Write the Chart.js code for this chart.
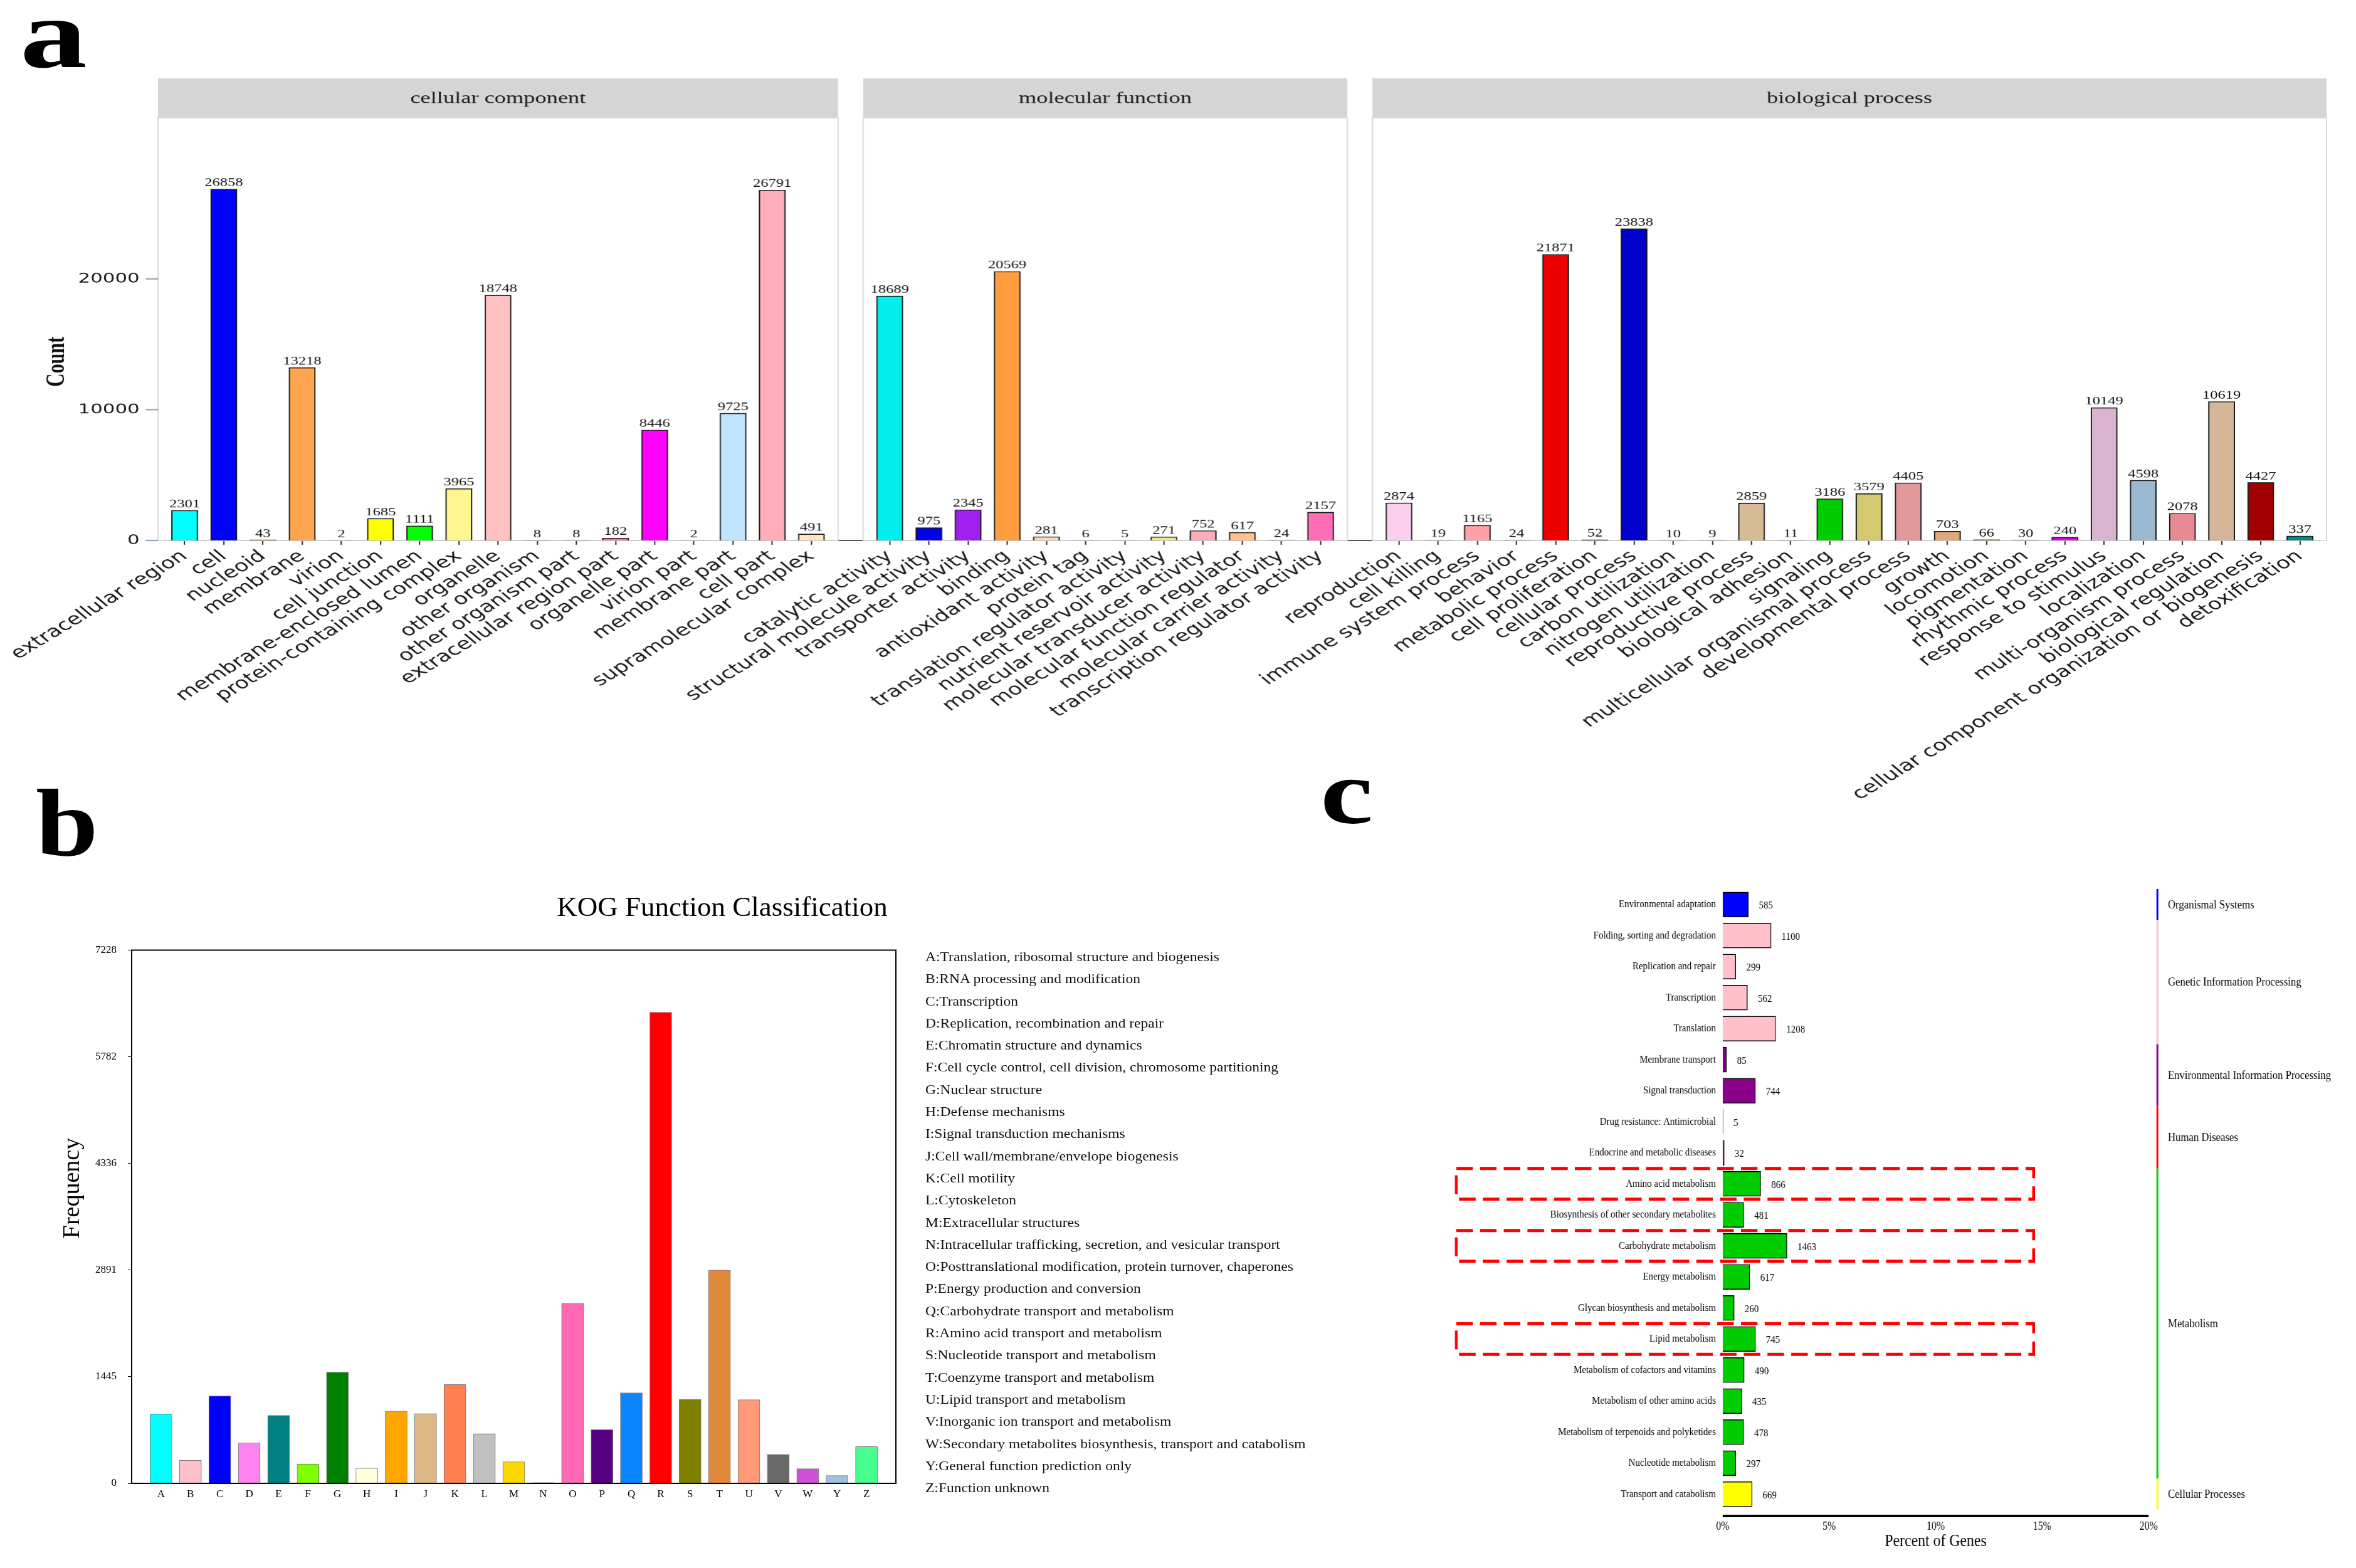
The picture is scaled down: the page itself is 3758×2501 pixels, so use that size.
<!DOCTYPE html>
<html>
<head>
<meta charset="utf-8">
<title>GO / KOG / KEGG annotation</title>
<script src="https://cdn.jsdelivr.net/npm/chart.js@4.4.1/dist/chart.umd.min.js"></script>
<style>
  html, body { margin: 0; padding: 0; background: #fff; }
  #page { position: relative; width: 3758px; height: 2501px; overflow: hidden; background: #fff; }
  canvas { position: absolute; }
  .letter { position: absolute; font-family: "Liberation Serif", serif; font-weight: bold; line-height: 1; transform-origin: 0 0; color: #000; }
  #lab-a { left: 32px; top: -23px; font-size: 156px; transform: scaleX(1.37); }
  #lab-b { left: 57px; top: 1237px; font-size: 152px; transform: scaleX(1.18); }
  #lab-c { left: 2106px; top: 1190px; font-size: 147px; transform: scaleX(1.29); }
  #kog-legend { position: absolute; left: 1476px; top: 1509px; font-family: "Liberation Serif", serif; font-size: 21px; line-height: 35.3px; white-space: nowrap; color: #111; transform: scaleX(1.12); transform-origin: 0 0; }
</style>
</head>
<body>
<div id="page">
  <div class="letter" id="lab-a">a</div>
  <div class="letter" id="lab-b">b</div>
  <div class="letter" id="lab-c">c</div>
  <canvas id="go-chart" width="2684" height="1300" style="left:0;top:0;width:3758px;height:1300px"></canvas>
  <canvas id="kog-chart" width="2304" height="1060" style="left:0;top:1380px;width:2304px;height:1060px"></canvas>
  <div id="kog-legend"></div>
  <canvas id="kegg-chart" width="1657" height="1121" style="left:2300px;top:1380px;width:1458px;height:1121px"></canvas>
</div>
<script>
// ---- panel a: GO terms ----
const ccLabels = ["extracellular region", "cell", "nucleoid", "membrane", "virion", "cell junction",
  "membrane-enclosed lumen", "protein-containing complex", "organelle", "other organism",
  "other organism part", "extracellular region part", "organelle part", "virion part",
  "membrane part", "cell part", "supramolecular complex"];
const ccCounts = [2301, 26858, 43, 13218, 2, 1685, 1111, 3965, 18748, 8, 8, 182, 8446, 2, 9725, 26791, 491];
const ccColors = ["#00FFFF", "#0000FF", "#E0A030", "#FFA54F", "#CCCCCC", "#FFFF00", "#00FF00", "#FFF68F",
  "#FFC1C1", "#999999", "#999999", "#FF6EB4", "#FF00FF", "#CCCCCC", "#BFE4FF", "#FFAEB9", "#FFE4C4"];

const mfLabels = ["catalytic activity", "structural molecule activity", "transporter activity", "binding",
  "antioxidant activity", "protein tag", "translation regulator activity", "nutrient reservoir activity",
  "molecular transducer activity", "molecular function regulator", "molecular carrier activity",
  "transcription regulator activity"];
const mfCounts = [18689, 975, 2345, 20569, 281, 6, 5, 271, 752, 617, 24, 2157];
const mfColors = ["#00EEEE", "#0000EE", "#A020F0", "#FF9E40", "#FFDAB0", "#999999", "#999999", "#F0E68C",
  "#FFAEB9", "#FFC08A", "#999999", "#FF6EB4"];

const bpLabels = ["reproduction", "cell killing", "immune system process", "behavior", "metabolic process",
  "cell proliferation", "cellular process", "carbon utilization", "nitrogen utilization",
  "reproductive process", "biological adhesion", "signaling", "multicellular organismal process",
  "developmental process", "growth", "locomotion", "pigmentation", "rhythmic process",
  "response to stimulus", "localization", "multi-organism process", "biological regulation",
  "cellular component organization or biogenesis", "detoxification"];
const bpCounts = [2874, 19, 1165, 24, 21871, 52, 23838, 10, 9, 2859, 11, 3186, 3579, 4405, 703, 66, 30,
  240, 10149, 4598, 2078, 10619, 4427, 337];
const bpColors = ["#FAD0EE", "#999999", "#FFA0AB", "#999999", "#EE0000", "#333333", "#0000CD", "#999999",
  "#999999", "#D6BB94", "#999999", "#00CD00", "#D4C870", "#E09A9A", "#DEA878", "#8B5A2B", "#999999",
  "#EE00EE", "#D8B4CE", "#9AB8D0", "#E68A94", "#D6B698", "#A00000", "#008B8B"];

const goOntologies = ["cellular component", "molecular function", "biological process"];
const goTicks = [0, 10000, 20000];

// ---- panel b: KOG ----
const kogClasses = ["A", "B", "C", "D", "E", "F", "G", "H", "I", "J", "K", "L", "M", "N", "O", "P", "Q",
  "R", "S", "T", "U", "V", "W", "Y", "Z"];
const kogCounts = [941, 312, 1184, 548, 922, 262, 1508, 206, 978, 945, 1340, 673, 293, 10, 2443, 729, 1228,
  6387, 1140, 2890, 1134, 393, 199, 106, 498];
const kogColors = ["#00FFFF", "#FFC0CB", "#0000FF", "#FF83F0", "#008080", "#7FFF00", "#008000", "#FFFFE0",
  "#FFA500", "#DEB887", "#FF7F50", "#C0C0C0", "#FFD700", "#8B4513", "#FF69B4", "#560082", "#0A84FF",
  "#FF0000", "#808000", "#E2893C", "#FF9977", "#696969", "#D050D8", "#A0C0E0", "#46FF8E"];
const kogDescriptions = ["Translation, ribosomal structure and biogenesis", "RNA processing and modification",
  "Transcription", "Replication, recombination and repair", "Chromatin structure and dynamics",
  "Cell cycle control, cell division, chromosome partitioning", "Nuclear structure", "Defense mechanisms",
  "Signal transduction mechanisms", "Cell wall/membrane/envelope biogenesis", "Cell motility",
  "Cytoskeleton", "Extracellular structures", "Intracellular trafficking, secretion, and vesicular transport",
  "Posttranslational modification, protein turnover, chaperones", "Energy production and conversion",
  "Carbohydrate transport and metabolism", "Amino acid transport and metabolism",
  "Nucleotide transport and metabolism", "Coenzyme transport and metabolism", "Lipid transport and metabolism",
  "Inorganic ion transport and metabolism", "Secondary metabolites biosynthesis, transport and catabolism",
  "General function prediction only", "Function unknown"];
const kogTicks = [0, 1445, 2891, 4336, 5782, 7228];

// ---- panel c: KEGG ----
const keggPathways = ["Environmental adaptation", "Folding, sorting and degradation", "Replication and repair",
  "Transcription", "Translation", "Membrane transport", "Signal transduction", "Drug resistance: Antimicrobial",
  "Endocrine and metabolic diseases", "Amino acid metabolism", "Biosynthesis of other secondary metabolites",
  "Carbohydrate metabolism", "Energy metabolism", "Glycan biosynthesis and metabolism", "Lipid metabolism",
  "Metabolism of cofactors and vitamins", "Metabolism of other amino acids",
  "Metabolism of terpenoids and polyketides", "Nucleotide metabolism", "Transport and catabolism"];
const keggCounts = [585, 1100, 299, 562, 1208, 85, 744, 5, 32, 866, 481, 1463, 617, 260, 745, 490, 435, 478, 297, 669];
const keggGroups = ["Organismal Systems", "Genetic Information Processing", "Environmental Information Processing",
  "Human Diseases", "Metabolism", "Cellular Processes"];
const keggGroupOf = [0, 1, 1, 1, 1, 2, 2, 3, 3, 4, 4, 4, 4, 4, 4, 4, 4, 4, 4, 5];
const keggGroupColors = ["#0000FF", "#FFC0CB", "#8B008B", "#FF0000", "#00CC00", "#FFFF00"];
const keggHighlighted = ["Amino acid metabolism", "Carbohydrate metabolism", "Lipid metabolism"];
const keggTotalGenes = 48500;
const keggTicks = [0, 5, 10, 15, 20];

Chart.defaults.color = "#000";
Chart.defaults.font.family = '"Liberation Serif", serif';

// ---------- panel a ----------
const goLabels = [...ccLabels, "", ...mfLabels, "", ...bpLabels];
const goCounts = [...ccCounts, null, ...mfCounts, null, ...bpCounts];
const goColors = [...ccColors, "rgba(0,0,0,0)", ...mfColors, "rgba(0,0,0,0)", ...bpColors];
const goPanels = [
  { name: goOntologies[0], first: 0, last: ccLabels.length - 1 },
  { name: goOntologies[1], first: ccLabels.length + 1, last: ccLabels.length + mfLabels.length },
  { name: goOntologies[2], first: ccLabels.length + mfLabels.length + 2, last: goLabels.length - 1 }
];

const goPanelPlugin = {
  id: "goPanels",
  beforeDatasetsDraw(chart) {
    const { ctx, chartArea, scales: { x, y } } = chart;
    const band = x.getPixelForValue(1) - x.getPixelForValue(0);
    ctx.save();
    goPanels.forEach(p => {
      const x0 = x.getPixelForValue(p.first) - 0.68 * band;
      const x1 = x.getPixelForValue(p.last) + 0.68 * band;
      ctx.fillStyle = "#d5d5d5";
      ctx.fillRect(x0, 125, x1 - x0, chartArea.top - 125);
      ctx.strokeStyle = "#d9d9d9";
      ctx.lineWidth = 1.5;
      ctx.strokeRect(x0, chartArea.top, x1 - x0, chartArea.bottom - chartArea.top);
      ctx.fillStyle = "#1a1a1a";
      ctx.font = '26px "Liberation Serif"';
      ctx.textAlign = "center";
      ctx.textBaseline = "middle";
      ctx.fillText(p.name, (x0 + x1) / 2, (125 + chartArea.top) / 2 + 1);
    });
    const left = x.getPixelForValue(0) - 0.68 * band;
    ctx.strokeStyle = "#8c9cb0";
    ctx.lineWidth = 2;
    goTicks.forEach(v => {
      const py = y.getPixelForValue(v);
      ctx.beginPath();
      ctx.moveTo(left - 14, py);
      ctx.lineTo(left, py);
      ctx.stroke();
    });
    ctx.restore();
  },
  afterDatasetsDraw(chart) {
    const { ctx } = chart;
    const bars = chart.getDatasetMeta(0).data;
    ctx.save();
    ctx.fillStyle = "#111";
    ctx.font = '17.5px "Liberation Serif"';
    ctx.textAlign = "center";
    ctx.textBaseline = "alphabetic";
    bars.forEach((bar, i) => {
      if (goCounts[i] === null) return;
      ctx.fillText(String(goCounts[i]), bar.x, bar.y - 5);
    });
    ctx.translate(65, 577);
    ctx.rotate(-Math.PI / 2);
    ctx.font = 'bold 30px "Liberation Serif"';
    ctx.textBaseline = "middle";
    ctx.fillText("Count", 0, 0);
    ctx.restore();
  }
};

new Chart(document.getElementById("go-chart"), {
  type: "bar",
  data: {
    labels: goLabels,
    datasets: [{
      data: goCounts,
      backgroundColor: goColors,
      borderColor: "#1a1a1a",
      borderWidth: 1.5,
      barThickness: 30
    }]
  },
  options: {
    responsive: false,
    animation: false,
    devicePixelRatio: 1.4,
    layout: { padding: { left: 0, right: 42, top: 188, bottom: 0 } },
    plugins: { legend: { display: false }, tooltip: { enabled: false } },
    scales: {
      x: {
        grid: {
          offset: false,
          drawOnChartArea: false,
          drawTicks: true,
          tickLength: 7,
          lineWidth: 1.5,
          color: ctx => (goLabels[ctx.index] ? "#333" : "rgba(0,0,0,0)")
        },
        border: { display: true, color: "#333", width: 1.5 },
        ticks: {
          autoSkip: false,
          minRotation: 40,
          maxRotation: 40,
          padding: 3,
          color: "#1a1a1a",
          font: { family: "DejaVu Sans", size: 26 }
        },
        afterFit: s => { s.height = 1300 - 862; s.paddingLeft = 0; s.paddingRight = 0; }
      },
      y: {
        min: 0,
        max: 32311,
        afterBuildTicks: s => { s.ticks = goTicks.map(v => ({ value: v })); },
        grid: { display: false, drawTicks: false },
        border: { display: false },
        ticks: { padding: 29, color: "#1a1a1a", font: { family: "DejaVu Sans", size: 22 }, callback: v => String(v) },
        afterFit: s => { s.width = 188; }
      }
    }
  },
  plugins: [goPanelPlugin]
});

// ---------- panel b ----------
document.getElementById("kog-legend").innerHTML =
  kogClasses.map((c, i) => `<div>${c}:${kogDescriptions[i]}</div>`).join("");

const kogFramePlugin = {
  id: "kogFrame",
  afterDatasetsDraw(chart) {
    const { ctx, chartArea: a } = chart;
    ctx.save();
    ctx.strokeStyle = "#000";
    ctx.lineWidth = 2;
    ctx.strokeRect(a.left, a.top, a.right - a.left, a.bottom - a.top);
    ctx.fillStyle = "#000";
    ctx.font = '45px "Liberation Serif"';
    ctx.textAlign = "center";
    ctx.textBaseline = "middle";
    ctx.fillText("KOG Function Classification", 1152, 69.5);
    ctx.translate(116, 515);
    ctx.rotate(-Math.PI / 2);
    ctx.font = '38px "Liberation Serif"';
    ctx.fillText("Frequency", 0, 0);
    ctx.restore();
  }
};

new Chart(document.getElementById("kog-chart"), {
  type: "bar",
  data: {
    labels: ["", ...kogClasses, ""],
    datasets: [{
      data: [null, ...kogCounts, null],
      backgroundColor: ["rgba(0,0,0,0)", ...kogColors, "rgba(0,0,0,0)"],
      borderColor: "#7a7a7a",
      borderWidth: 1,
      barThickness: 35
    }]
  },
  options: {
    responsive: false,
    animation: false,
    devicePixelRatio: 1,
    layout: { padding: { left: 0, right: 875, top: 135.5, bottom: 0 } },
    plugins: { legend: { display: false }, tooltip: { enabled: false } },
    scales: {
      x: {
        offset: false,
        grid: { display: false, drawTicks: false },
        border: { display: false },
        ticks: { autoSkip: false, maxRotation: 0, padding: 7, font: { size: 17 } },
        afterFit: s => { s.height = 74; s.paddingLeft = 0; s.paddingRight = 0; }
      },
      y: {
        min: 0,
        max: 7228,
        afterBuildTicks: s => { s.ticks = kogTicks.map(v => ({ value: v })); },
        grid: { drawOnChartArea: false, drawTicks: true, tickLength: 6, color: "#000" },
        border: { display: false },
        ticks: { padding: 18, font: { size: 17 }, callback: v => String(v) },
        afterFit: s => { s.width = 210; }
      }
    }
  },
  plugins: [kogFramePlugin]
});

// ---------- panel c ----------
const keggPercent = keggCounts.map(c => c / keggTotalGenes * 100);
const keggBarColors = keggGroupOf.map(g => keggGroupColors[g]);

const keggDecorPlugin = {
  id: "keggDecor",
  afterDatasetsDraw(chart) {
    const { ctx, scales: { x, y }, chartArea: a } = chart;
    const half = (y.getPixelForValue(1) - y.getPixelForValue(0)) / 2;
    ctx.save();
    const bars = chart.getDatasetMeta(0).data;
    ctx.font = '17px "Liberation Serif"';
    ctx.fillStyle = "#000";
    ctx.textAlign = "left";
    ctx.textBaseline = "middle";
    bars.forEach((bar, i) => ctx.fillText(String(keggCounts[i]), bar.x + 19, bar.y + 2));

    ctx.strokeStyle = "#000";
    ctx.lineWidth = 4;
    ctx.beginPath();
    ctx.moveTo(x.getPixelForValue(0), a.bottom + 10);
    ctx.lineTo(x.getPixelForValue(20), a.bottom + 10);
    ctx.stroke();

    const gx = a.right + 16;
    keggGroups.forEach((g, gi) => {
      const rows = keggGroupOf.map((v, i) => (v === gi ? i : -1)).filter(i => i >= 0);
      const top = y.getPixelForValue(rows[0]) - half;
      const bot = y.getPixelForValue(rows[rows.length - 1]) + half;
      ctx.strokeStyle = keggGroupColors[gi];
      ctx.lineWidth = 3.4;
      ctx.beginPath();
      ctx.moveTo(gx, top);
      ctx.lineTo(gx, bot);
      ctx.stroke();
      ctx.fillStyle = "#000";
      ctx.font = '19px "Liberation Serif"';
      ctx.fillText(g, gx + 19, (top + bot) / 2 + 1);
    });

    ctx.strokeStyle = "#ff0000";
    ctx.lineWidth = 5;
    ctx.setLineDash([30, 13]);
    keggHighlighted.forEach(name => {
      const cy = y.getPixelForValue(keggPathways.indexOf(name));
      ctx.strokeRect(26, cy - 24.5, x.getPixelForValue(14.6) - 26, 49);
    });
    ctx.restore();
  }
};

new Chart(document.getElementById("kegg-chart"), {
  type: "bar",
  data: {
    labels: keggPathways,
    datasets: [{
      data: keggPercent,
      backgroundColor: keggBarColors,
      borderColor: "#000",
      borderWidth: 1.5,
      barThickness: 40
    }]
  },
  options: {
    indexAxis: "y",
    responsive: false,
    animation: false,
    devicePixelRatio: 1,
    layout: { padding: { left: 0, right: 376, top: 38, bottom: 0 } },
    plugins: { legend: { display: false }, tooltip: { enabled: false } },
    scales: {
      x: {
        min: 0,
        max: 20,
        afterBuildTicks: s => { s.ticks = keggTicks.map(v => ({ value: v })); },
        grid: { display: false, drawTicks: false },
        border: { display: false },
        ticks: { callback: v => v + "%", padding: 16, font: { size: 18 } },
        title: { display: true, text: "Percent of Genes", font: { size: 27 }, padding: { top: 0, bottom: 26 } },
        afterFit: s => { s.height = 93; s.paddingLeft = 0; s.paddingRight = 0; }
      },
      y: {
        grid: { display: false, drawTicks: false },
        border: { display: false },
        ticks: { autoSkip: false, padding: 12.5, font: { size: 17 } },
        afterFit: s => { s.width = 509; }
      }
    }
  },
  plugins: [keggDecorPlugin]
});
</script>
</body>
</html>
